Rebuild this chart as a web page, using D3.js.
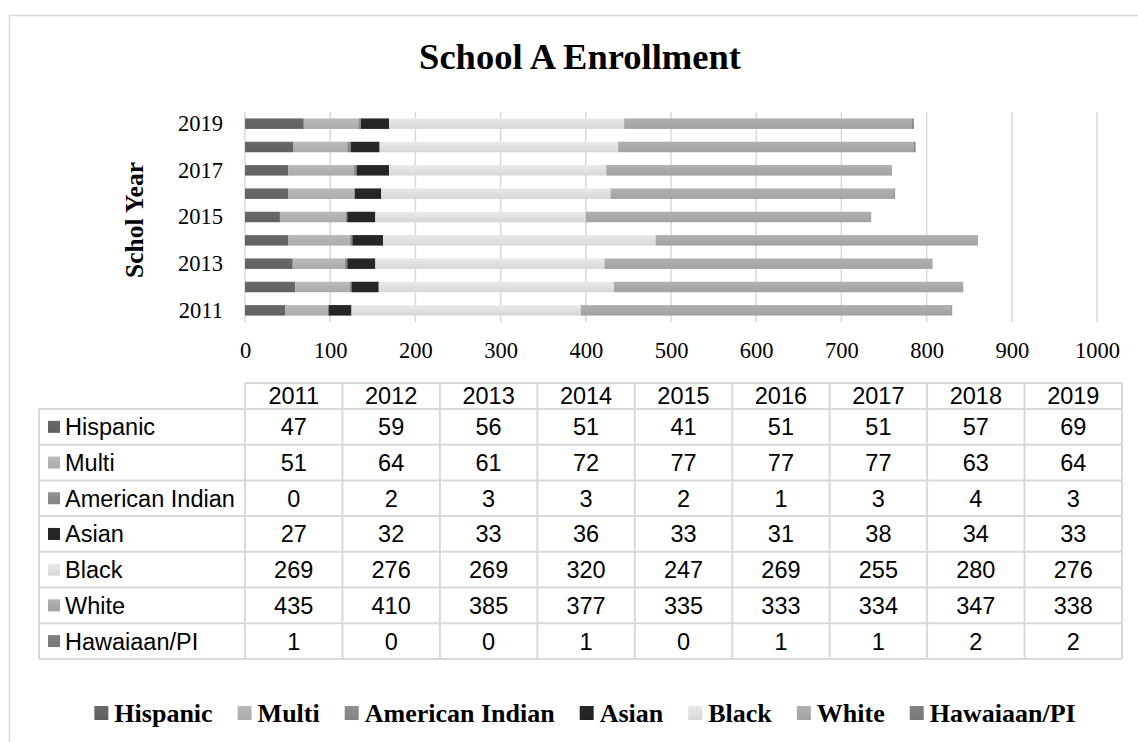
<!DOCTYPE html>
<html>
<head>
<meta charset="utf-8">
<script src="https://cdn.jsdelivr.net/npm/d3@7"></script>
<style>
  html, body { margin: 0; padding: 0; background: #ffffff; }
  svg { display: block; }
</style>
</head>
<body>
<svg id="chart" width="1138" height="742"></svg>
<script>
// Enrollment by group and school year
const years = [2011, 2012, 2013, 2014, 2015, 2016, 2017, 2018, 2019];
const seriesNames = ["Hispanic", "Multi", "American Indian", "Asian", "Black", "White", "Hawaiaan/PI"];
const hispanic       = [47, 59, 56, 51, 41, 51, 51, 57, 69];
const multi          = [51, 64, 61, 72, 77, 77, 77, 63, 64];
const americanIndian = [0, 2, 3, 3, 2, 1, 3, 4, 3];
const asian          = [27, 32, 33, 36, 33, 31, 38, 34, 33];
const black          = [269, 276, 269, 320, 247, 269, 255, 280, 276];
const white          = [435, 410, 385, 377, 335, 333, 334, 347, 338];
const hawaiian       = [1, 0, 0, 1, 0, 1, 1, 2, 2];
const xTicks = [0, 100, 200, 300, 400, 500, 600, 700, 800, 900, 1000];
const yTickLabels = [2011, 2013, 2015, 2017, 2019];

const seriesValues = [hispanic, multi, americanIndian, asian, black, white, hawaiian];
const seriesColors = ["#656565", "#b2b2b2", "#8a8a8a", "#262626", "#e0e0e0", "#a9a9a9", "#7d7d7d"];

const serif = "'Liberation Serif', 'Times New Roman', serif";
const sans = "'Liberation Sans', Arial, sans-serif";

const svg = d3.select("#chart");
const gridColor = "#d9d9d9";

// Outer chart frame
svg.append("rect")
  .attr("x", 9.5).attr("y", 15.5)
  .attr("width", 1300).attr("height", 900)
  .attr("fill", "none").attr("stroke", gridColor).attr("stroke-width", 1.5);

// Gradients for the bar fills
const defs = svg.append("defs");
seriesColors.forEach((c, i) => {
  const g = defs.append("linearGradient")
    .attr("id", "grad" + i).attr("x1", 0).attr("y1", 0).attr("x2", 0).attr("y2", 1);
  const base = d3.color(c);
  g.append("stop").attr("offset", "0%").attr("stop-color", base.brighter(0.12).formatHex());
  g.append("stop").attr("offset", "50%").attr("stop-color", base.formatHex());
  g.append("stop").attr("offset", "100%").attr("stop-color", base.darker(0.12).formatHex());
});

// Title
svg.append("text")
  .attr("x", 580).attr("y", 69)
  .attr("text-anchor", "middle")
  .style("font-family", serif).style("font-weight", "bold").style("font-size", "36.5px")
  .text("School A Enrollment");

// Scales
const plotTop = 112, plotBottom = 322;
const x = d3.scaleLinear().domain([0, 1000]).range([245, 1097]);
const y = d3.scaleBand().domain(years.slice().reverse()).range([plotTop, plotBottom]).paddingInner(0.55).paddingOuter(0.275);

// Vertical gridlines
svg.append("g").selectAll("line")
  .data(xTicks)
  .join("line")
  .attr("x1", d => x(d)).attr("x2", d => x(d))
  .attr("y1", plotTop).attr("y2", plotBottom)
  .attr("stroke", gridColor).attr("stroke-width", 1.5);

// Stacked bars
const rows = years.map((yr, i) => {
  const r = { year: yr };
  seriesNames.forEach((s, k) => { r[s] = seriesValues[k][i]; });
  return r;
});
const stacked = d3.stack().keys(seriesNames)(rows);

svg.append("g").selectAll("g")
  .data(stacked)
  .join("g")
  .attr("fill", (d, i) => `url(#grad${i})`)
  .selectAll("rect")
  .data(d => d)
  .join("rect")
  .attr("x", d => x(d[0]))
  .attr("width", d => Math.max(0, x(d[1]) - x(d[0])))
  .attr("y", d => y(d.data.year))
  .attr("height", y.bandwidth());

// X axis labels
const xAxis = svg.append("g")
  .attr("transform", `translate(0, ${plotBottom + 20})`)
  .call(d3.axisBottom(x).tickValues(xTicks).tickFormat(d3.format("d")).tickSize(0).tickPadding(0));
xAxis.select(".domain").remove();
xAxis.selectAll("text")
  .style("font-family", serif).style("font-size", "22.5px").attr("fill", "#000")
  .attr("dy", "0.71em");

// Y axis labels (every other year)
const yAxis = svg.append("g")
  .attr("transform", `translate(${x(0) - 22}, 0)`)
  .call(d3.axisLeft(y).tickValues(yTickLabels).tickSize(0).tickPadding(0));
yAxis.select(".domain").remove();
yAxis.selectAll("text")
  .style("font-family", serif).style("font-size", "22.5px").attr("fill", "#000");

// Y axis title
svg.append("text")
  .attr("transform", `translate(143, 220) rotate(-90)`)
  .attr("text-anchor", "middle")
  .style("font-family", serif).style("font-weight", "bold").style("font-size", "25.5px")
  .text("Schol Year");

// Data table below the plot
const tableLeft = 39, labelRight = x(0), tableRight = 1122;
const headerTop = 383, headerBottom = 409, rowH = 35.7;
const colW = (tableRight - labelRight) / years.length;
const tableBottom = headerBottom + rowH * seriesNames.length;
const table = svg.append("g");
const border = { stroke: gridColor, w: 2 };
const tableFont = "23.5px";

// horizontal rules
table.append("line")
  .attr("x1", labelRight).attr("x2", tableRight)
  .attr("y1", headerTop).attr("y2", headerTop)
  .attr("stroke", border.stroke).attr("stroke-width", border.w);
d3.range(seriesNames.length + 1).forEach(i => {
  const yy = headerBottom + i * rowH;
  table.append("line")
    .attr("x1", tableLeft).attr("x2", tableRight)
    .attr("y1", yy).attr("y2", yy)
    .attr("stroke", border.stroke).attr("stroke-width", border.w);
});
// vertical rules
table.append("line")
  .attr("x1", tableLeft).attr("x2", tableLeft)
  .attr("y1", headerBottom).attr("y2", tableBottom)
  .attr("stroke", border.stroke).attr("stroke-width", border.w);
d3.range(years.length + 1).forEach(j => {
  const xx = labelRight + j * colW;
  table.append("line")
    .attr("x1", xx).attr("x2", xx)
    .attr("y1", headerTop).attr("y2", tableBottom)
    .attr("stroke", border.stroke).attr("stroke-width", border.w);
});

// header years
table.selectAll("text.hdr")
  .data(years)
  .join("text")
  .attr("class", "hdr")
  .attr("x", (d, j) => labelRight + (j + 0.5) * colW)
  .attr("y", (headerTop + headerBottom) / 2)
  .attr("dy", "0.36em")
  .attr("text-anchor", "middle")
  .style("font-family", sans).style("font-size", tableFont)
  .text(d => d);

// row labels with keys
seriesNames.forEach((name, i) => {
  const cy = headerBottom + (i + 0.5) * rowH;
  table.append("rect")
    .attr("x", 48).attr("y", cy - 6).attr("width", 12).attr("height", 12)
    .attr("fill", `url(#grad${i})`);
  table.append("text")
    .attr("x", 65).attr("y", cy).attr("dy", "0.36em")
    .style("font-family", sans).style("font-size", tableFont)
    .text(name);
  table.selectAll(null)
    .data(seriesValues[i])
    .join("text")
    .attr("x", (d, j) => labelRight + (j + 0.5) * colW)
    .attr("y", cy).attr("dy", "0.36em")
    .attr("text-anchor", "middle")
    .style("font-family", sans).style("font-size", tableFont)
    .text(d => d);
});

// Legend, centered under the chart
const legend = svg.append("g");
const legendY = 713, keySize = 14, keyGap = 6, itemGap = 25;
let cursor = 0;
seriesNames.forEach((name, i) => {
  const g = legend.append("g");
  g.append("rect")
    .attr("x", 0).attr("y", legendY - keySize / 2)
    .attr("width", keySize).attr("height", keySize)
    .attr("fill", `url(#grad${i})`);
  const t = g.append("text")
    .attr("x", keySize + keyGap).attr("y", legendY).attr("dy", "0.33em")
    .style("font-family", serif).style("font-weight", "bold").style("font-size", "26px")
    .text(name);
  const w = keySize + keyGap + t.node().getComputedTextLength();
  g.attr("transform", `translate(${cursor}, 0)`);
  cursor += w + itemGap;
});
const legendWidth = cursor - itemGap;
legend.attr("transform", `translate(${585 - legendWidth / 2}, 0)`);
</script>
</body>
</html>
